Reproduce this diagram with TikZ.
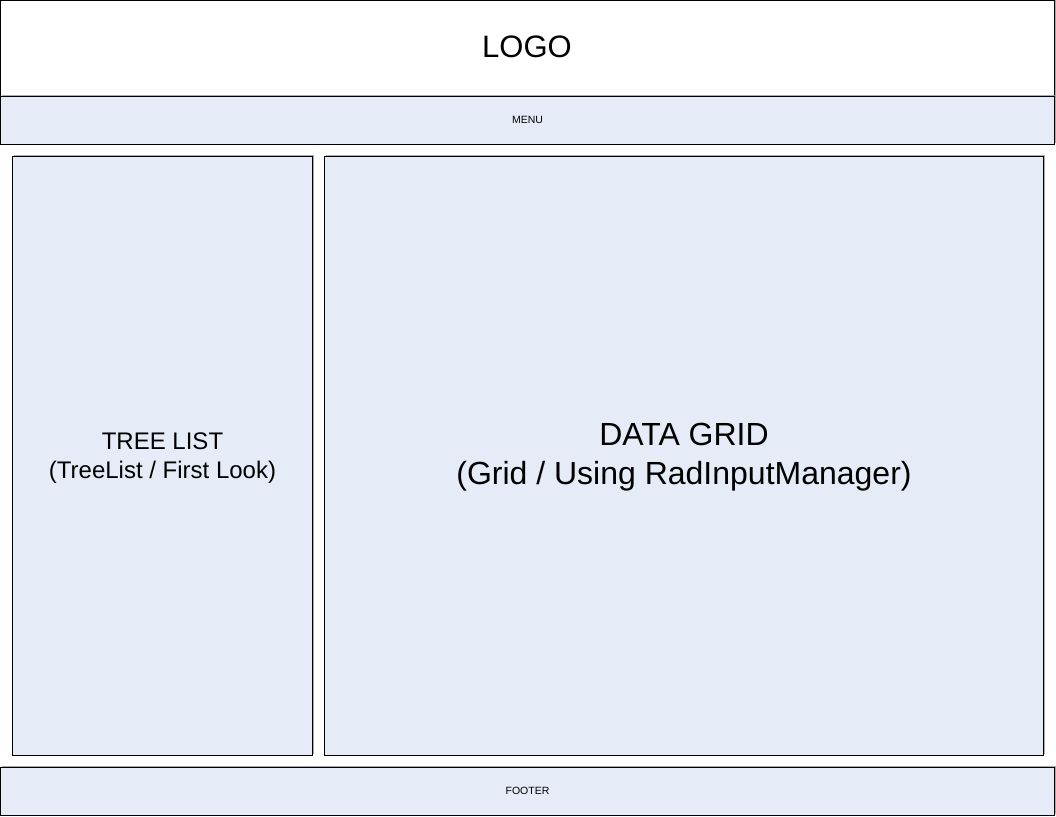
\documentclass[tikz,border=0pt]{standalone}
\usepackage{fontspec}
\setmainfont{Liberation Sans}
\usetikzlibrary{shadows}
\definecolor{panelfill}{RGB}{230,236,247}
\definecolor{shadowgray}{RGB}{150,150,150}
\tikzset{
  panel/.style={draw=black, line width=1pt, fill=panelfill, rectangle, inner sep=0pt, align=center,
    drop shadow={shadow xshift=1.2pt, shadow yshift=1.2pt, fill=shadowgray, opacity=0.8}},
  whitepanel/.style={panel, fill=white},
  paneltext/.style={inner sep=0pt, align=center}
}
\begin{document}
\begin{tikzpicture}[x=1pt,y=-1pt]
\useasboundingbox (0,0) rectangle (1056,816);
\fill[white] (0,0) rectangle (1056,816);
\node[whitepanel, minimum width=1054pt, minimum height=96pt] (logo) at (527.5,48.5) {};
\node[paneltext, font=\fontsize{31}{35}\selectfont] (logotext) at (527,46.5) {LOGO};
\node[panel, minimum width=1054pt, minimum height=48pt] (menu) at (527.5,120.5) {};
\node[paneltext, font=\fontsize{10.5}{12}\selectfont] (menutext) at (527.5,119.5) {MENU};
\node[panel, minimum width=300pt, minimum height=599pt] (tree) at (162.5,456) {};
\node[paneltext, font=\fontsize{24}{29}\selectfont] (treetext) at (162.5,458.5) {TREE LIST\\(TreeList / First Look)};
\node[panel, minimum width=719pt, minimum height=599pt] (grid) at (684,456) {};
\node[paneltext, font=\fontsize{32}{39}\selectfont] (gridtext) at (684,457.5) {DATA GRID\\(Grid / Using RadInputManager)};
\node[panel, minimum width=1054pt, minimum height=48pt] (footer) at (527.5,791.5) {};
\node[paneltext, font=\fontsize{10.5}{12}\selectfont] (footertext) at (527.5,790.5) {FOOTER};
\end{tikzpicture}
\end{document}
